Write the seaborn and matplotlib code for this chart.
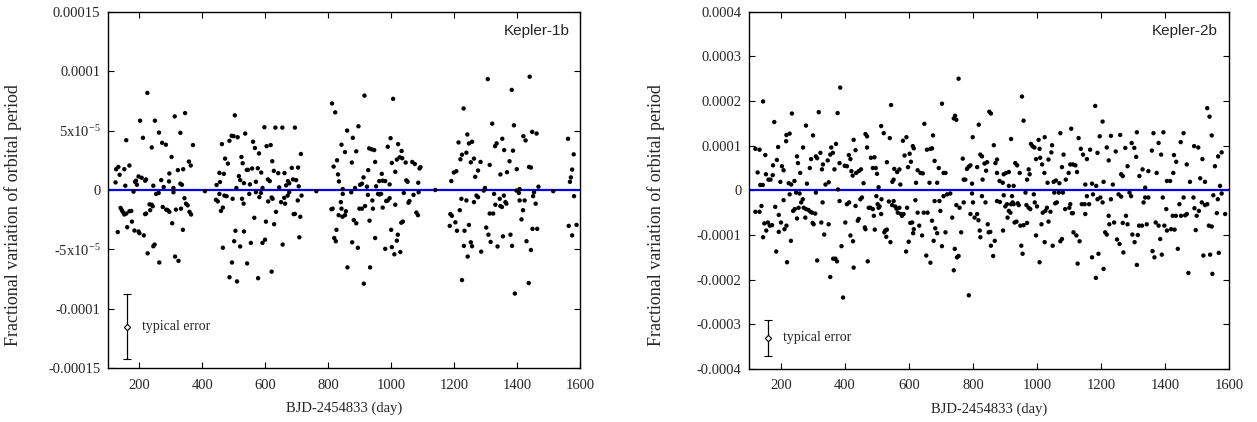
import matplotlib
matplotlib.use("Agg")
import matplotlib.pyplot as plt
import seaborn as sns
import numpy as np
import pandas as pd

# ---------------- data: Kepler-1b (fractional period variation in units of 1e-5) --------------
k1_day = [
    124, 126, 133, 137, 152, 158, 155, 168, 186, 189, 192, 197, 202, 207, 211, 218, 221, 225, 239, 244,
    249, 262, 269, 272, 277, 284, 295, 294, 302, 308, 312, 322, 330, 330, 335, 339, 345, 357, 363, 370,
    445, 454, 456, 462, 468, 472, 481, 486, 493, 499, 503, 508, 512, 516, 520, 524, 528, 532, 536, 541,
    545, 551, 558, 561, 567, 570, 576, 580, 587, 591, 597, 604, 608, 614, 617, 622, 627, 632, 641, 644,
    654, 661, 666, 672, 676, 684, 688, 694, 698, 704, 706, 713,
    812, 817, 822, 828, 831, 834, 842, 853, 860, 846, 875, 889, 896, 878, 885, 901, 907, 915, 912, 923,
    927, 930, 938, 946, 949, 952, 962, 970, 973, 981, 989, 995, 998, 1002, 1006, 1013, 1018, 1022, 1027, 1033,
    1035, 1046, 1048, 1052, 1067, 1075, 1086, 1090, 1093,
    1191, 1199, 1207, 1214, 1220, 1225, 1230, 1239, 1242, 1247, 1253, 1257, 1263, 1267, 1276, 1284, 1298, 1307,
    1313, 1321, 1330, 1335, 1347, 1353, 1359, 1368, 1376, 1383, 1387, 1390, 1399, 1408, 1420, 1427, 1438, 1440,
    1444, 1448, 1462, 1468,
    1562, 1568, 1571, 1575, 1580,
    408, 762, 1140, 1515,
    131, 140, 144, 147, 152, 158, 161, 168, 174, 176, 181, 184, 197, 200, 214, 218, 221, 226, 232, 234,
    239, 242, 244, 248, 253, 261, 263, 274, 285, 290, 295, 304, 308, 313, 316, 324, 332, 338, 343, 348,
    353, 359, 364,
    443, 449, 454, 459, 465, 470, 477, 465, 486, 494, 496, 501, 505, 510, 520, 526, 531, 532, 542, 549,
    554, 565, 570, 577, 581, 586, 591, 599, 602, 609, 620, 620, 623, 628, 634, 650, 655, 660, 663, 671,
    676, 690, 694, 703, 708, 711, 715,
    810, 814, 819, 824, 826, 833, 840, 842, 845, 853, 861, 856, 846, 873, 876, 881, 889, 894, 899, 907,
    913, 917, 926, 931, 933, 940, 942, 949, 958, 963, 968, 973, 981, 984, 989, 995, 1000, 1002, 1010, 1013,
    1018, 1021, 1029, 1032, 1037, 1040, 1055, 1058, 1071, 1080, 1085, 1087,
    1186, 1188, 1193, 1204, 1209, 1218, 1223, 1225, 1231, 1233, 1239, 1243, 1247, 1253, 1257, 1263, 1271, 1276,
    1286, 1294, 1302, 1309, 1313, 1316, 1324, 1327, 1331, 1338, 1345, 1347, 1352, 1355, 1358, 1363, 1366, 1379,
    1384, 1393, 1398, 1406, 1408, 1414, 1419, 1424, 1430, 1437, 1444, 1449, 1451, 1454, 1459, 1464,
    1564, 1575, 1581, 1589,
]
k1_var = [
    0.64, 1.75, 1.94, 1.28, 1.75, 4.19, 0.36, 2.06, 0.69, 0.78, 0.44, 1.14, 5.83, 1.03, 4.39, 0.78, 0.89, 8.17, 3.58, 0.36,
    5.83, 4.83, 0.83, 3.97, 0.25, 3.81, 1.39, 0.72, 2.78, 0.17, 6.19, 1.67, 4.81, 0.53, 0.44, 1.75, 6.47, 2.39, 2.06, 3.78,
    0.42, 1.44, 0.67, 3.86, 1.36, 2.64, 2.22, 4.14, 4.56, 4.53, 6.28, 0.17, 4.44, 1.17, 0.83, 2.78, 2.25, 0.58, 4.75, 1.69,
    1.69, 0.47, 1.81, 4.06, 3.53, 0.69, 1.83, 3.08, 1.47, 0.17, 5.28, 3.69, 0.89, 0.75, 3.78, 2.42, 1.61, 5.25, 1.42, 0.22,
    5.25, 1.42, 0.39, 0.75, 0.56, 1.86, 0.89, 5.25, 0.83, 1.89, 0.31, 3.03,
    7.28, 1.97, 6.53, 2.50, 1.31, 0.72, 3.81, 3.19, 5.00, 0.08, 2.31, 3.25, 5.36, 4.39, 0.17, 0.44, 0.53, 7.94, 1.06, 0.28,
    1.67, 3.50, 3.42, 3.36, 2.36, 0.31, 0.75, 1.36, 0.78, 0.75, 3.64, 0.47, 4.36, 2.28, 7.67, 1.53, 2.56, 3.86, 2.75, 3.28,
    2.67, 2.31, 0.81, 0.69, 2.36, 2.19, 0.61, 1.81, 1.92,
    0.75, 1.47, 1.58, 4.00, 2.58, 2.97, 6.86, 3.14, 4.67, 3.92, 2.33, 4.06, 2.64, 1.11, 1.64, 2.36, 0.17, 9.33,
    2.11, 5.58, 3.69, 3.92, 1.31, 4.31, 3.36, 1.50, 2.42, 8.42, 3.31, 5.44, 1.75, 0.08, 4.53, 4.17, 1.94, 9.53,
    1.89, 4.89, 4.75, 0.28,
    4.31, 0.69, 1.06, 1.72, 3.00,
    -0.10, -0.10, 0.00, -0.10,
    -3.54, -1.51, -1.70, -1.84, -2.06, -1.98, -3.13, -1.79, -1.76, -2.66, -0.14, -3.41, -3.49, -3.63, -3.82, -2.03, -1.98, -5.33, -1.21, -1.70,
    -1.24, -1.37, -4.73, -4.59, -0.33, -0.25, -6.10, -1.43, -1.65, -1.70, -1.84, -2.80, -0.19, -5.60, -1.65, -5.96, -1.57, -3.35, -0.69, -1.15,
    -1.29, -1.84, -2.06,
    -0.82, -0.96, -0.33, -1.76, -1.48, -0.47, -0.52, -4.86, -7.34, -6.10, -0.74, -4.31, -3.43, -7.69, -4.75, -0.74, -1.15, -3.49, -6.18, -0.33,
    -4.45, -2.34, -0.19, -7.42, -0.60, -0.25, -4.45, -4.18, -2.66, -0.96, -0.63, -6.87, -0.74, -2.88, -1.84, -1.02, -4.59, -0.66, -1.15, -0.47,
    -0.19, -2.03, -2.01, -0.88, -3.98, -2.25, -0.47,
    -1.62, -1.57, -4.04, -4.31, -3.35, -2.12, -1.02, -1.57, -2.25, -2.12, -6.51, -1.79, -0.33, -0.19, -4.40, -2.53, -2.80, -4.86, -1.57, -1.57,
    -7.88, -1.35, -0.41, -2.58, -6.51, -0.88, -1.57, -4.04, -0.33, -0.38, -0.33, -1.48, -4.95, -0.93, -0.88, -0.69, -3.35, -4.81, -5.41, -1.24,
    -4.26, -3.76, -5.22, -2.75, -2.66, -0.25, -1.07, -0.93, -0.41, -1.90, -2.12, -0.19,
    -3.02, -2.03, -2.17, -2.72, -3.43, -1.70, -0.74, -7.58, -4.70, -3.43, -0.88, -5.60, -2.94, -4.40, -4.73, -1.02, -0.47, -0.60,
    -5.19, -0.05, -3.16, -3.76, -1.98, -4.37, -1.98, -0.33, -1.24, -4.75, -0.74, -1.35, -1.43, -3.90, -0.47, -1.02, -1.15, -3.76,
    -4.70, -8.71, -0.05, -0.25, -0.88, -2.47, -1.70, -0.88, -4.31, -7.83, -5.05, -3.27, -0.52, -0.19, -1.15, -3.27,
    -3.02, -3.82, -0.52, -2.94,
]

# ---------------- data: Kepler-2b (fractional period variation in units of 1e-4) --------------
k2_day = [
    120, 133, 127, 135, 143, 144, 151, 153, 161, 167, 174, 175, 179, 187, 191, 198, 203, 208, 216, 217,
    224, 227, 232, 234, 242, 250, 253, 260, 269, 278, 281, 290, 294, 300, 309, 313, 318, 323, 328, 331,
    339, 346, 349, 354, 357, 362, 367, 372, 377, 383, 378, 385, 399, 406, 412, 417, 420, 424, 427, 433,
    435, 443, 450, 458, 464, 469, 469, 481, 487, 492, 496, 500, 505, 513, 521, 531, 540, 544, 548, 552,
    554, 563, 570, 573, 581, 586, 592, 597, 602, 606, 612, 615, 622, 627, 636, 643, 648, 656, 664, 667,
    672, 675, 680, 688, 693, 703, 708, 714, 740, 744, 748, 755, 768, 771, 776, 781, 787, 792, 797, 799,
    813, 818, 823, 828, 830, 836, 841, 844, 851, 856, 865, 870, 875, 875, 883,
    893, 896, 903, 912, 912, 919, 927, 932, 938, 946, 953, 958, 969, 974, 977, 981, 986, 992, 997, 1005,
    1008, 1010, 1016, 1023, 1024, 1033, 1036, 1045, 1047, 1052, 1059, 1070, 1073, 1078, 1083, 1090, 1099, 1104,
    1107, 1112, 1120, 1125, 1130, 1137, 1144, 1151, 1156, 1166, 1172, 1182, 1185, 1189, 1196, 1205, 1208, 1218,
    1224, 1231, 1237, 1246, 1260, 1263, 1268, 1276, 1283, 1296, 1304, 1310, 1312, 1320, 1330, 1338, 1348, 1359,
    1364, 1374, 1380, 1388, 1395, 1406, 1416, 1426, 1428, 1435, 1449, 1458, 1468, 1478, 1491, 1504, 1510, 1517,
    1525, 1532, 1539, 1546, 1556, 1566, 1577, 1572,
    120, 133, 139, 144, 148, 154, 159, 165, 172, 182, 185, 193, 193, 200, 208, 211, 217, 219, 227, 231,
    238, 243, 247, 250, 255, 258, 263, 268, 271, 276, 278, 286, 292, 297, 299, 302, 307, 309, 313, 326,
    330, 335, 349, 354, 363, 370, 375, 383, 389, 394, 401, 406, 413, 417, 425, 427, 433, 440, 443, 448,
    453, 462, 464, 471, 474, 479, 487, 490, 493, 498, 502, 505, 508, 513, 514, 523, 526, 529, 531, 537,
    542, 547, 552, 557, 561, 565, 570, 575, 578, 583, 591, 594, 599, 604, 610, 613, 615, 620, 627, 632,
    641, 646, 654, 658, 667, 672, 677, 680, 682, 688, 695, 698, 703, 708, 714, 719, 729, 735, 740, 743,
    748, 750, 755, 758, 763, 771, 787, 792, 797, 800, 805, 813, 817, 821, 823, 828, 839, 846, 849, 854,
    856, 863, 868, 875, 884,
    894, 896, 901, 906, 908, 912, 917, 919, 922, 924, 927, 930, 936, 940, 943, 948, 951, 955, 958, 964,
    967, 969, 974, 979, 990, 993, 997, 1000, 1008, 1014, 1018, 1024, 1026, 1031, 1036, 1042, 1049, 1054, 1057, 1062,
    1068, 1073, 1078, 1081, 1088, 1101, 1104, 1109, 1112, 1114, 1123, 1127, 1133, 1140, 1149, 1151, 1156, 1163,
    1172, 1175, 1184, 1189, 1192, 1198, 1205, 1208, 1213, 1218, 1224, 1226, 1231, 1241, 1250, 1255, 1258, 1263,
    1268, 1270, 1278, 1283, 1289, 1294, 1298, 1305, 1312, 1315, 1319, 1328, 1333, 1338, 1343, 1348, 1361, 1367,
    1371, 1380, 1385, 1390, 1393, 1398, 1404, 1406, 1419, 1424, 1430, 1434, 1440, 1445, 1450, 1458, 1463, 1468,
    1473, 1489, 1492, 1496, 1499, 1506, 1515, 1520, 1525, 1532, 1537, 1541, 1546, 1548, 1551, 1562, 1565, 1568,
    1577, 1588,
]
k2_var = [
    0.93, 0.91, 0.40, 0.12, 0.12, 1.99, 0.79, 0.36, 0.24, 0.24, 0.34, 0.56, 1.53, 0.68, 0.97, 0.19, 0.54, 0.45, 1.10, 1.24,
    0.16, 1.27, 0.13, 1.72, 0.21, 0.76, 0.61, 0.39, 0.96, 1.45, 0.15, 0.50, 0.70, 1.23, 0.76, 0.72, 1.75, 0.84, 0.47, 0.58,
    0.13, 0.67, 0.18, 0.80, 0.96, 0.84, 0.47, 1.04, 1.73, 0.61, 0.02, 2.30, 0.55, 0.54, 0.79, 0.70, 0.43, 0.33, 1.13, 0.90,
    0.39, 0.43, 0.47, 0.16, 1.26, 1.21, 0.96, 0.73, 0.50, 0.74, 0.50, 0.37, 0.07, 1.44, 1.28, 0.63, 1.17, 1.91, 0.19, 0.24,
    0.48, 0.41, 0.47, 0.13, 1.11, 0.78, 1.19, 0.52, 0.82, 0.64, 0.99, 0.94, 0.17, 0.45, 0.39, 0.38, 1.49, 0.91, 0.17, 0.93,
    0.94, 1.23, 0.66, 0.17, 0.50, 1.94, 0.39, 0.39, 1.61, 1.67, 1.58, 2.50, 0.71, 0.24, 0.24, 0.48, 0.53, 0.56, 0.15, 1.19,
    0.52, 1.47, 0.80, 0.76, 0.24, 0.60, 0.44, 0.63, 1.76, 1.72, 1.01, 0.61, 0.69, 0.39, 0.21,
    0.17, 0.36, 0.39, 0.41, 0.10, 1.15, 0.10, 0.61, 0.56, 0.39, 2.10, 1.56, 0.24, 0.47, 0.36, 1.04, 0.99, 0.96, 0.70, 1.13,
    0.93, 0.73, 0.58, 0.39, 1.19, 0.17, 0.69, 0.85, 1.01, 0.19, 0.22, 0.16, 1.28, 0.52, 0.80, 0.24, 0.39, 0.58,
    1.38, 0.58, 0.56, 0.41, 1.17, 0.93, 0.80, 0.13, 0.70, 0.91, 0.15, 1.89, 0.10, 0.84, 1.21, 1.54, 0.19, 0.96,
    0.67, 1.22, 0.13, 0.87, 1.24, 0.36, 0.32, 0.95, 0.54, 1.06, 0.95, 0.75, 1.30, 0.32, 0.47, 0.06, 0.43, 0.89,
    1.28, 0.39, 1.06, 0.80, 1.30, 0.21, 0.21, 0.39, 0.79, 0.64, 1.08, 1.28, 0.58, 0.19, 0.99, 0.96, 0.27, 0.70,
    0.19, 1.84, 1.65, 1.23, 0.54, 0.76, 0.85, 0.10,
    -0.48, -0.48, -0.35, -1.05, -0.74, -0.90, -0.72, -0.79, -0.78, -0.37, -1.37, -0.55, -0.93, -0.72, -0.22, -0.87, -0.79, -1.61, -0.09, -1.13,
    -0.46, -0.42, -0.05, -0.63, -0.39, -0.07, -0.27, -0.20, -0.39, -0.61, -0.42, -0.44, -0.48, -0.50, -0.73, -0.76, -0.52, -0.05, -1.57, -0.72,
    -0.27, -0.99, -0.76, -1.94, -1.53, -1.53, -1.59, -0.24, -1.25, -2.40, -0.72, -0.31, -0.27, -1.01, -1.14, -1.73, -0.35, -0.68, -0.64, -0.20,
    -0.16, -0.83, -0.87, -1.59, -0.39, -0.39, -0.42, -0.57, -0.88, -0.13, -0.31, -0.39, -0.36, -0.53, -0.20, -0.94, -0.90, -1.04, -0.88, -0.25,
    -1.16, -0.33, -0.24, -0.36, -0.41, -0.50, -0.39, -0.53, -0.57, -0.53, -1.37, -0.39, -1.15, -0.73, -0.72, -0.96, -0.87, -0.22, -0.50, -0.79,
    -1.01, -0.50, -1.46, -0.50, -1.62, -0.68, -1.13, -0.24, -0.85, -0.96, -0.24, -0.46, -1.25, -0.13, -0.94, -0.09, -0.07, -0.61, -1.79, -1.31,
    -0.33, -1.50, -1.47, -0.39, -0.94, -0.27, -2.35, -0.53, -0.07, -0.27, -0.61, -0.53, -0.67, -0.90, -1.05, -0.13, -0.27, -0.76, -0.94, -0.93,
    -1.24, -1.47, -1.13, -0.24, -0.26,
    -0.90, -0.11, -0.36, -0.31, -0.61, -0.46, -0.50, -0.31, -0.13, -0.27, -0.31, -0.72, -0.70, -0.29, -0.33, -0.79, -1.24, -1.42, -0.78, -0.05,
    -0.33, -0.73, -0.39, -0.42, -0.09, -0.27, -1.01, -0.36, -1.61, -0.76, -0.50, -1.16, -0.46, -0.39, -0.70, -0.48, -1.24, -0.05, -0.29, -0.27,
    -0.05, -1.14, -1.09, -0.05, -0.42, -0.39, -0.31, -0.51, -0.51, -0.94, -1.01, -1.64, -1.14, -0.31, -0.31, -0.53, -0.13, -0.31,
    -1.50, -0.09, -1.96, -0.20, -1.42, -0.16, -0.27, -1.76, -0.94, -0.99, -0.57, -0.76, -0.20, -0.72, -1.10, -0.09, -1.20, -0.14,
    -0.73, -1.39, -0.57, -0.76, -0.05, -0.13, -0.99, -1.16, -1.67, -1.00, -0.79, -0.79, -0.27, -0.16, -0.76, -0.16, -1.36, -1.50,
    -0.72, -0.79, -1.09, -1.44, -0.16, -0.79, -0.42, -0.90, -0.87, -0.57, -0.88, -0.57, -1.31, -0.31, -0.57, -0.16, -0.56, -0.53,
    -1.85, -0.16, -0.40, -0.89, -0.57, -0.46, -0.27, -1.46, -0.33, -0.31, -0.79, -1.44, -0.81, -1.87, -0.11, -0.51, -0.20, -1.40,
    -0.07, -0.53,
]

# typical error bars
err_day = [160, 160]
err_center = [-1.15e-4, -3.3e-4]
err_half = [2.75e-5, 0.4e-4]

titles = ["Kepler-1b", "Kepler-2b"]
k1_ticks = [0.00015, 0.0001, 5e-5, 0, -5e-5, -0.0001, -0.00015]
k1_ticklabels = ["0.00015", "0.0001", r"5x10$^{\mathregular{-5}}$", "0",
                 r"-5x10$^{\mathregular{-5}}$", "-0.0001", "-0.00015"]
k2_ticks = [0.0004, 0.0003, 0.0002, 0.0001, 0, -0.0001, -0.0002, -0.0003, -0.0004]
k2_ticklabels = ["0.0004", "0.0003", "0.0002", "0.0001", "0", "-0.0001", "-0.0002", "-0.0003", "-0.0004"]
x_ticks = [200, 400, 600, 800, 1000, 1200, 1400, 1600]

df1 = pd.DataFrame({"day": k1_day, "var": np.array(k1_var) * 1e-5})
df2 = pd.DataFrame({"day": k2_day, "var": np.array(k2_var) * 1e-4})

sns.set_style("ticks")
plt.rcParams["font.family"] = ["Liberation Serif", "DejaVu Serif"]
plt.rcParams["mathtext.fontset"] = "custom"
plt.rcParams["mathtext.rm"] = "Liberation Serif"
plt.rcParams["mathtext.it"] = "Liberation Serif:italic"

fig = plt.figure(figsize=(12.57, 4.22), dpi=100)
ax1 = fig.add_axes([108 / 1257, 53.7 / 422, 472 / 1257, 356.6 / 422])
ax2 = fig.add_axes([749 / 1257, 53 / 422, 480 / 1257, 357.3 / 422])

panels = [
    (ax1, df1, (-0.00015, 0.00015), k1_ticks, k1_ticklabels, -0.183),
    (ax2, df2, (-0.0004, 0.0004), k2_ticks, k2_ticklabels, -0.176),
]

for i, (ax, df, ylim, yt, ytl, ylab_x) in enumerate(panels):
    ax.axhline(0, color="#0000ee", lw=1.6, zorder=1)
    sns.scatterplot(data=df, x="day", y="var", ax=ax, s=10, color="black",
                    edgecolor="none", linewidth=0, zorder=3, legend=False)
    ax.errorbar([err_day[i]], [err_center[i]], yerr=[err_half[i]], fmt="D",
                mfc="white", mec="black", ms=3.2, mew=0.8, ecolor="black",
                elinewidth=0.9, capsize=2.6, capthick=0.9, zorder=4)
    ax.text(207, err_center[i], "typical error", fontsize=10, va="center", ha="left")
    ax.set_xlim(100, 1600)
    ax.set_ylim(*ylim)
    ax.set_xticks(x_ticks)
    ax.set_xticklabels([str(t) for t in x_ticks])
    ax.set_yticks(yt)
    ax.set_yticklabels(ytl)
    ax.tick_params(direction="in", top=True, right=True, length=4.5, width=0.8,
                   labelsize=10.5, color="black")
    ax.tick_params(axis="y", pad=5.5)
    ax.tick_params(axis="x", pad=7.5)
    for sp in ax.spines.values():
        sp.set_visible(True)
        sp.set_linewidth(1.0)
        sp.set_color("black")
    ax.set_xlabel("BJD-2454833 (day)", fontsize=10.5, labelpad=7)
    ax.set_ylabel("Fractional variation of orbital period", fontsize=13)
    ax.yaxis.set_label_coords(ylab_x, 0.43)
    ax.text(0.977, 0.965, titles[i], transform=ax.transAxes, ha="right", va="top",
            fontsize=11, family=["Liberation Sans", "DejaVu Sans"])

fig.savefig("out.png", dpi=100, facecolor="white")
